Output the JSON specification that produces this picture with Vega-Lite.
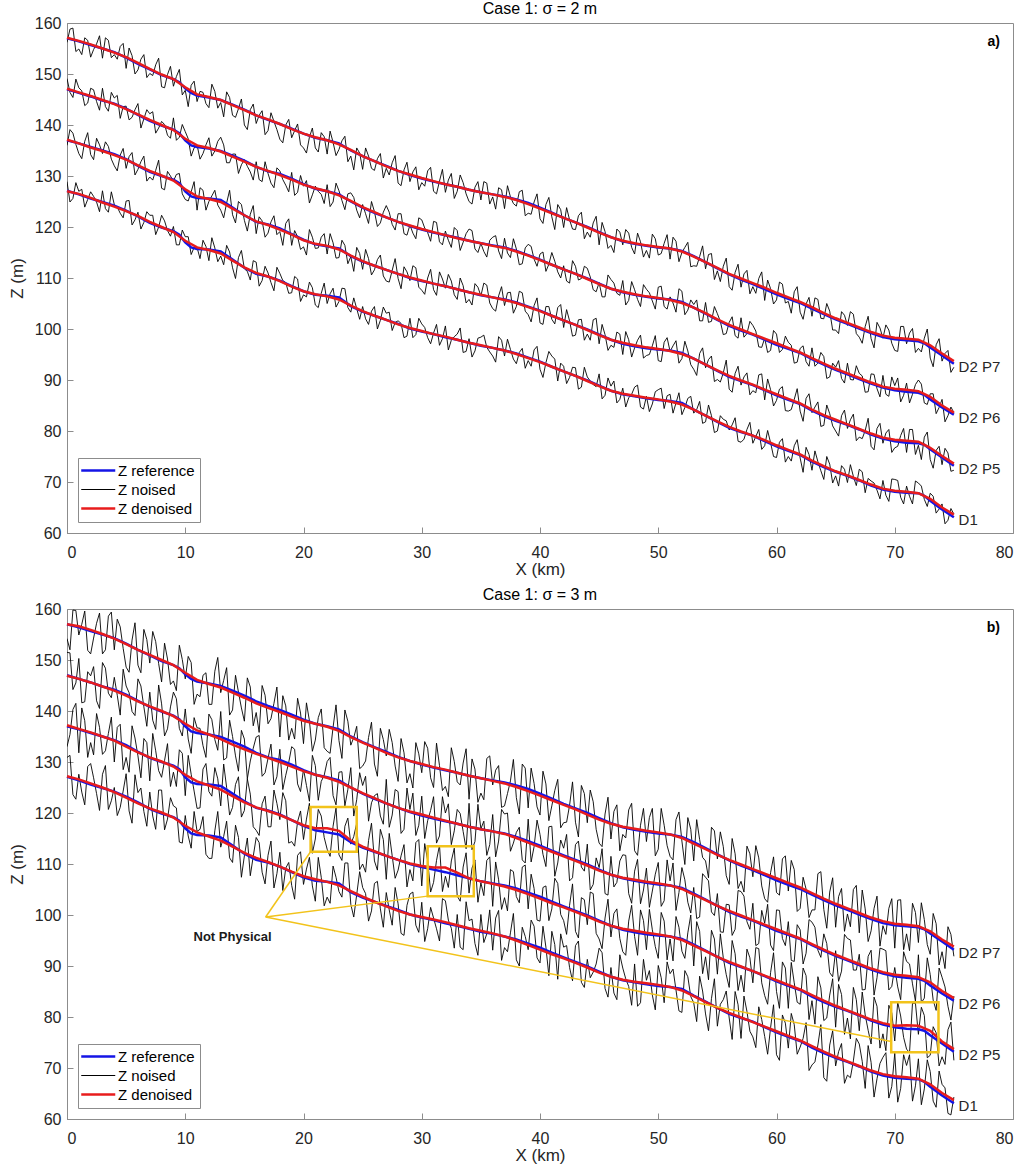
{
"$schema": "https://vega.github.io/schema/vega-lite/v6.json",
"background": "white",
"padding": {"left": 7, "top": 0, "right": 0, "bottom": 0},
"spacing": 8,
"config": {
  "font": "Liberation Sans",
  "view": {"stroke": "#8c8c8c", "strokeWidth": 1},
  "axis": {"grid": false, "domainColor": "#8c8c8c", "tickColor": "#8c8c8c", "labelColor": "#262626", "titleColor": "#262626", "labelFontSize": 16, "titleFontSize": 17, "titleFontWeight": "normal", "tickSize": -6},
  "axisX": {"labelPadding": 17, "titlePadding": 1},
  "axisY": {"labelPadding": 12, "titlePadding": 8},
  "title": {"fontSize": 16, "fontWeight": "normal", "color": "#000000", "offset": -2}
},
"resolve": {"scale": {"color": "independent"}, "legend": {"color": "independent"}},
"datasets": {
"ref": [
{"x":0,"D1":127.1,"P5":137.0,"P6":147.0,"P7":157.0},
{"x":1,"D1":126.4,"P5":136.4,"P6":146.3,"P7":156.4},
{"x":2,"D1":125.6,"P5":135.7,"P6":145.6,"P7":155.7},
{"x":3,"D1":124.9,"P5":135.0,"P6":144.8,"P7":155.0},
{"x":4,"D1":124.2,"P5":134.3,"P6":144.2,"P7":154.3},
{"x":5,"D1":123.2,"P5":133.3,"P6":143.2,"P7":153.2},
{"x":6,"D1":122.1,"P5":132.0,"P6":142.0,"P7":152.0},
{"x":7,"D1":120.8,"P5":130.8,"P6":140.8,"P7":150.9},
{"x":8,"D1":119.9,"P5":130.0,"P6":139.9,"P7":149.8},
{"x":9,"D1":119.2,"P5":129.3,"P6":139.1,"P7":149.0},
{"x":9.5,"D1":118.5,"P5":128.6,"P6":138.4,"P7":148.4},
{"x":10,"D1":117.0,"P5":127.0,"P6":137.0,"P7":147.2},
{"x":10.5,"D1":116.0,"P5":126.0,"P6":136.0,"P7":146.3},
{"x":11,"D1":115.7,"P5":125.7,"P6":135.7,"P7":145.8},
{"x":12,"D1":115.6,"P5":125.6,"P6":135.4,"P7":145.4},
{"x":13,"D1":115.2,"P5":125.3,"P6":134.9,"P7":144.9},
{"x":14,"D1":113.6,"P5":123.8,"P6":134.0,"P7":144.0},
{"x":15,"D1":112.0,"P5":122.3,"P6":133.0,"P7":143.0},
{"x":16,"D1":110.8,"P5":121.0,"P6":131.8,"P7":141.9},
{"x":17,"D1":110.3,"P5":120.5,"P6":130.9,"P7":141.0},
{"x":18,"D1":109.5,"P5":119.7,"P6":130.4,"P7":140.2},
{"x":19,"D1":108.4,"P5":118.6,"P6":129.5,"P7":139.3},
{"x":20,"D1":107.4,"P5":117.5,"P6":128.4,"P7":138.3},
{"x":21,"D1":106.7,"P5":116.6,"P6":127.5,"P7":137.5},
{"x":22,"D1":106.5,"P5":116.2,"P6":127.0,"P7":137.0},
{"x":23,"D1":106.2,"P5":115.8,"P6":126.4,"P7":136.4},
{"x":24,"D1":104.5,"P5":114.3,"P6":125.0,"P7":135.0},
{"x":25,"D1":103.4,"P5":113.2,"P6":123.8,"P7":133.9},
{"x":26,"D1":102.6,"P5":112.4,"P6":122.8,"P7":132.9},
{"x":27,"D1":101.8,"P5":111.6,"P6":121.9,"P7":132.0},
{"x":28,"D1":101.0,"P5":110.8,"P6":121.0,"P7":131.0},
{"x":29,"D1":100.1,"P5":110.0,"P6":120.2,"P7":130.2},
{"x":30,"D1":99.5,"P5":109.4,"P6":119.5,"P7":129.5},
{"x":31,"D1":99.0,"P5":108.9,"P6":118.9,"P7":128.9},
{"x":32,"D1":98.4,"P5":108.4,"P6":118.4,"P7":128.4},
{"x":33,"D1":97.9,"P5":107.8,"P6":117.9,"P7":127.9},
{"x":34,"D1":97.3,"P5":107.2,"P6":117.3,"P7":127.3},
{"x":35,"D1":96.7,"P5":106.6,"P6":116.8,"P7":126.8},
{"x":36,"D1":96.3,"P5":106.2,"P6":116.4,"P7":126.4},
{"x":37,"D1":95.8,"P5":105.8,"P6":116.0,"P7":126.0},
{"x":38,"D1":95.2,"P5":105.2,"P6":115.3,"P7":125.4},
{"x":39,"D1":94.4,"P5":104.4,"P6":114.5,"P7":124.7},
{"x":40,"D1":93.6,"P5":103.6,"P6":113.6,"P7":123.8},
{"x":41,"D1":92.6,"P5":102.6,"P6":112.6,"P7":122.8},
{"x":42,"D1":91.7,"P5":101.7,"P6":111.7,"P7":121.8},
{"x":43,"D1":90.8,"P5":100.8,"P6":110.8,"P7":120.9},
{"x":44,"D1":89.9,"P5":99.9,"P6":109.9,"P7":120.0},
{"x":45,"D1":88.9,"P5":98.9,"P6":108.9,"P7":119.0},
{"x":46,"D1":87.9,"P5":97.9,"P6":107.9,"P7":118.0},
{"x":47,"D1":87.2,"P5":97.1,"P6":107.2,"P7":117.2},
{"x":48,"D1":86.8,"P5":96.6,"P6":106.7,"P7":116.7},
{"x":49,"D1":86.4,"P5":96.2,"P6":106.3,"P7":116.3},
{"x":50,"D1":86.1,"P5":96.0,"P6":106.0,"P7":116.0},
{"x":51,"D1":85.9,"P5":95.8,"P6":105.8,"P7":115.8},
{"x":52,"D1":85.5,"P5":95.3,"P6":105.3,"P7":115.3},
{"x":53,"D1":84.2,"P5":94.2,"P6":104.2,"P7":114.3},
{"x":54,"D1":83.0,"P5":93.0,"P6":103.0,"P7":113.1},
{"x":55,"D1":81.8,"P5":91.8,"P6":101.8,"P7":111.9},
{"x":56,"D1":80.6,"P5":90.6,"P6":100.6,"P7":110.7},
{"x":57,"D1":79.8,"P5":89.8,"P6":99.7,"P7":109.7},
{"x":58,"D1":79.1,"P5":89.0,"P6":98.9,"P7":108.8},
{"x":59,"D1":78.0,"P5":88.0,"P6":97.9,"P7":107.8},
{"x":60,"D1":77.0,"P5":87.0,"P6":96.9,"P7":106.8},
{"x":61,"D1":76.1,"P5":86.1,"P6":96.1,"P7":105.9},
{"x":62,"D1":75.3,"P5":85.3,"P6":95.3,"P7":105.1},
{"x":63,"D1":74.0,"P5":84.0,"P6":94.1,"P7":104.0},
{"x":64,"D1":72.9,"P5":82.9,"P6":93.0,"P7":102.9},
{"x":65,"D1":72.0,"P5":82.0,"P6":92.0,"P7":101.9},
{"x":66,"D1":71.2,"P5":81.2,"P6":91.1,"P7":101.0},
{"x":67,"D1":70.3,"P5":80.3,"P6":90.2,"P7":100.1},
{"x":68,"D1":69.3,"P5":79.3,"P6":89.3,"P7":99.2},
{"x":69,"D1":68.5,"P5":78.5,"P6":88.5,"P7":98.4},
{"x":70,"D1":68.1,"P5":78.0,"P6":88.0,"P7":98.0},
{"x":71,"D1":67.9,"P5":77.7,"P6":87.7,"P7":97.8},
{"x":72,"D1":67.8,"P5":77.6,"P6":87.5,"P7":97.6},
{"x":72.5,"D1":67.3,"P5":77.3,"P6":87.1,"P7":97.2},
{"x":73,"D1":66.3,"P5":76.4,"P6":86.2,"P7":96.4},
{"x":74,"D1":64.6,"P5":74.8,"P6":84.6,"P7":94.8},
{"x":75,"D1":63.1,"P5":73.2,"P6":83.2,"P7":93.2}
],
"noiseA": [
{"x":0,"D1":128.9,"P5":136.0,"P6":149.1,"P7":156.2},
{"x":0.5,"D1":125.6,"P5":138.4,"P6":145.4,"P7":159.0},
{"x":1,"D1":127.0,"P5":134.4,"P6":147.3,"P7":154.9},
{"x":1.5,"D1":123.9,"P5":136.8,"P6":143.8,"P7":157.1},
{"x":2,"D1":126.9,"P5":134.2,"P6":147.2,"P7":153.3},
{"x":2.5,"D1":124.9,"P5":137.4,"P6":144.6,"P7":155.9},
{"x":3,"D1":127.1,"P5":134.4,"P6":147.2,"P7":153.1},
{"x":3.5,"D1":122.9,"P5":135.8,"P6":142.7,"P7":156.6},
{"x":4,"D1":124.4,"P5":132.0,"P6":145.3,"P7":153.8},
{"x":4.5,"D1":122.7,"P5":134.1,"P6":141.3,"P7":155.4},
{"x":5,"D1":125.1,"P5":131.5,"P6":143.7,"P7":151.1},
{"x":5.5,"D1":120.4,"P5":134.6,"P6":141.5,"P7":153.6},
{"x":6,"D1":122.9,"P5":131.3,"P6":144.2,"P7":150.8},
{"x":6.5,"D1":120.9,"P5":133.9,"P6":141.2,"P7":153.8},
{"x":7,"D1":122.3,"P5":129.8,"P6":142.2,"P7":150.1},
{"x":7.5,"D1":118.5,"P5":131.1,"P6":138.4,"P7":151.8},
{"x":8,"D1":122.3,"P5":127.6,"P6":140.7,"P7":147.5},
{"x":8.5,"D1":119.3,"P5":130.9,"P6":138.0,"P7":149.9},
{"x":9,"D1":120.1,"P5":129.0,"P6":141.4,"P7":147.6},
{"x":9.5,"D1":116.5,"P5":130.5,"P6":137.6,"P7":150.9},
{"x":10,"D1":118.1,"P5":125.4,"P6":138.7,"P7":146.8},
{"x":10.5,"D1":114.6,"P5":126.9,"P6":133.9,"P7":147.8},
{"x":11,"D1":116.0,"P5":123.3,"P6":136.1,"P7":144.6},
{"x":11.5,"D1":117.4,"P5":127.2,"P6":134.4,"P7":146.4},
{"x":12,"D1":113.4,"P5":125.0,"P6":137.5,"P7":143.4},
{"x":12.5,"D1":115.9,"P5":127.2,"P6":134.9,"P7":146.6},
{"x":13,"D1":114.3,"P5":123.3,"P6":137.6,"P7":144.4},
{"x":13.5,"D1":116.4,"P5":124.7,"P6":132.6,"P7":146.5},
{"x":14,"D1":112.0,"P5":122.4,"P6":134.3,"P7":141.9},
{"x":14.5,"D1":114.0,"P5":125.0,"P6":130.5,"P7":143.2},
{"x":15,"D1":111.8,"P5":121.3,"P6":133.2,"P7":140.0},
{"x":15.5,"D1":109.6,"P5":122.5,"P6":130.8,"P7":143.0},
{"x":16,"D1":113.1,"P5":118.7,"P6":132.8,"P7":140.3},
{"x":16.5,"D1":109.5,"P5":121.2,"P6":128.9,"P7":142.8},
{"x":17,"D1":111.0,"P5":118.8,"P6":130.5,"P7":138.9},
{"x":17.5,"D1":107.5,"P5":122.2,"P6":127.7,"P7":140.7},
{"x":18,"D1":110.9,"P5":119.1,"P6":131.0,"P7":137.2},
{"x":18.5,"D1":109.1,"P5":120.7,"P6":128.2,"P7":140.0},
{"x":19,"D1":107.1,"P5":116.4,"P6":130.7,"P7":137.5},
{"x":19.5,"D1":109.8,"P5":118.1,"P6":126.8,"P7":140.2},
{"x":20,"D1":106.7,"P5":116.1,"P6":128.0,"P7":135.5},
{"x":20.5,"D1":109.2,"P5":119.5,"P6":124.7,"P7":137.6},
{"x":21,"D1":104.7,"P5":115.8,"P6":128.0,"P7":135.5},
{"x":21.5,"D1":107.0,"P5":118.0,"P6":126.4,"P7":138.5},
{"x":22,"D1":105.0,"P5":114.7,"P6":128.3,"P7":134.3},
{"x":22.5,"D1":108.0,"P5":116.9,"P6":124.9,"P7":136.6},
{"x":23,"D1":105.4,"P5":114.0,"P6":127.1,"P7":135.2},
{"x":23.5,"D1":107.9,"P5":116.4,"P6":123.4,"P7":137.8},
{"x":24,"D1":103.3,"P5":114.2,"P6":126.7,"P7":133.9},
{"x":24.5,"D1":104.0,"P5":116.0,"P6":123.3,"P7":135.5},
{"x":25,"D1":104.4,"P5":111.7,"P6":124.4,"P7":131.3},
{"x":25.5,"D1":100.9,"P5":113.8,"P6":120.7,"P7":133.9},
{"x":26,"D1":104.4,"P5":111.6,"P6":123.0,"P7":131.1},
{"x":26.5,"D1":101.7,"P5":114.5,"P6":120.8,"P7":134.4},
{"x":27,"D1":103.1,"P5":109.4,"P6":124.2,"P7":131.5},
{"x":27.5,"D1":99.7,"P5":111.5,"P6":120.5,"P7":132.6},
{"x":28,"D1":101.6,"P5":109.9,"P6":122.6,"P7":128.6},
{"x":28.5,"D1":98.3,"P5":112.2,"P6":118.7,"P7":131.2},
{"x":29,"D1":102.1,"P5":109.5,"P6":120.4,"P7":128.9},
{"x":29.5,"D1":98.9,"P5":112.0,"P6":117.7,"P7":131.8},
{"x":30,"D1":101.0,"P5":107.6,"P6":121.4,"P7":128.7},
{"x":30.5,"D1":98.3,"P5":110.0,"P6":118.9,"P7":131.0},
{"x":31,"D1":99.2,"P5":107.7,"P6":121.1,"P7":127.0},
{"x":31.5,"D1":96.8,"P5":111.2,"P6":117.1,"P7":129.0},
{"x":32,"D1":100.6,"P5":108.0,"P6":119.2,"P7":126.8},
{"x":32.5,"D1":97.8,"P5":109.4,"P6":116.0,"P7":130.5},
{"x":33,"D1":99.0,"P5":105.8,"P6":119.3,"P7":127.0},
{"x":33.5,"D1":95.4,"P5":108.5,"P6":117.0,"P7":128.7},
{"x":34,"D1":98.1,"P5":105.8,"P6":119.6,"P7":125.0},
{"x":34.5,"D1":95.7,"P5":108.9,"P6":115.7,"P7":127.8},
{"x":35,"D1":98.4,"P5":106.5,"P6":116.8,"P7":125.3},
{"x":35.5,"D1":96.4,"P5":108.6,"P6":114.1,"P7":128.6},
{"x":36,"D1":94.7,"P5":104.0,"P6":118.0,"P7":125.9},
{"x":36.5,"D1":98.5,"P5":106.5,"P6":115.3,"P7":127.7},
{"x":37,"D1":94.7,"P5":104.6,"P6":117.8,"P7":123.6},
{"x":37.5,"D1":96.0,"P5":107.2,"P6":114.0,"P7":125.9},
{"x":38,"D1":93.2,"P5":104.4,"P6":115.7,"P7":124.1},
{"x":38.5,"D1":96.2,"P5":107.1,"P6":112.8,"P7":127.2},
{"x":39,"D1":93.8,"P5":102.8,"P6":116.6,"P7":122.7},
{"x":39.5,"D1":95.9,"P5":104.6,"P6":113.7,"P7":124.9},
{"x":40,"D1":92.1,"P5":101.2,"P6":114.7,"P7":121.6},
{"x":40.5,"D1":93.4,"P5":104.4,"P6":111.3,"P7":124.4},
{"x":41,"D1":94.7,"P5":101.9,"P6":115.0,"P7":122.0},
{"x":41.5,"D1":89.8,"P5":104.2,"P6":111.2,"P7":124.4},
{"x":42,"D1":92.7,"P5":100.3,"P6":112.4,"P7":119.9},
{"x":42.5,"D1":90.5,"P5":101.6,"P6":109.0,"P7":121.4},
{"x":43,"D1":92.4,"P5":98.8,"P6":112.3,"P7":119.5},
{"x":43.5,"D1":88.6,"P5":101.9,"P6":109.9,"P7":122.9},
{"x":44,"D1":90.6,"P5":99.0,"P6":111.9,"P7":119.0},
{"x":44.5,"D1":89.1,"P5":101.8,"P6":107.7,"P7":120.8},
{"x":45,"D1":91.2,"P5":97.1,"P6":109.1,"P7":116.5},
{"x":45.5,"D1":87.0,"P5":98.9,"P6":106.3,"P7":119.1},
{"x":46,"D1":88.8,"P5":96.8,"P6":109.7,"P7":116.4},
{"x":46.5,"D1":85.5,"P5":99.4,"P6":107.0,"P7":119.6},
{"x":47,"D1":88.4,"P5":95.0,"P6":109.5,"P7":116.5},
{"x":47.5,"D1":86.5,"P5":97.9,"P6":105.6,"P7":118.8},
{"x":48,"D1":88.6,"P5":96.3,"P6":107.7,"P7":114.7},
{"x":48.5,"D1":84.7,"P5":98.8,"P6":104.4,"P7":117.1},
{"x":49,"D1":86.8,"P5":94.8,"P6":107.8,"P7":115.4},
{"x":49.5,"D1":85.3,"P5":96.7,"P6":105.5,"P7":118.6},
{"x":50,"D1":88.1,"P5":93.8,"P6":108.2,"P7":114.5},
{"x":50.5,"D1":84.4,"P5":97.4,"P6":104.4,"P7":116.8},
{"x":51,"D1":87.2,"P5":95.6,"P6":106.3,"P7":113.7},
{"x":51.5,"D1":85.5,"P5":97.7,"P6":103.3,"P7":117.2},
{"x":52,"D1":83.2,"P5":94.2,"P6":107.4,"P7":115.0},
{"x":52.5,"D1":86.4,"P5":95.7,"P6":103.7,"P7":117.0},
{"x":53,"D1":83.5,"P5":92.1,"P6":104.8,"P7":112.4},
{"x":53.5,"D1":85.8,"P5":95.2,"P6":101.6,"P7":114.2},
{"x":54,"D1":81.8,"P5":92.4,"P6":105.2,"P7":111.8},
{"x":54.5,"D1":83.0,"P5":94.7,"P6":101.5,"P7":114.8},
{"x":55,"D1":80.0,"P5":90.1,"P6":103.0,"P7":111.4},
{"x":55.5,"D1":82.3,"P5":91.4,"P6":98.9,"P7":112.3},
{"x":56,"D1":80.2,"P5":88.2,"P6":101.3,"P7":108.3},
{"x":56.5,"D1":82.6,"P5":91.3,"P6":98.7,"P7":111.1},
{"x":57,"D1":77.8,"P5":89.0,"P6":102.2,"P7":108.2},
{"x":57.5,"D1":80.3,"P5":91.4,"P6":99.1,"P7":111.5},
{"x":58,"D1":77.6,"P5":87.9,"P6":100.7,"P7":108.3},
{"x":58.5,"D1":80.3,"P5":91.0,"P6":96.5,"P7":109.9},
{"x":59,"D1":77.1,"P5":86.1,"P6":98.2,"P7":105.6},
{"x":59.5,"D1":77.7,"P5":88.1,"P6":95.8,"P7":107.9},
{"x":60,"D1":74.8,"P5":86.0,"P6":99.0,"P7":105.7},
{"x":60.5,"D1":78.5,"P5":88.7,"P6":96.0,"P7":108.8},
{"x":61,"D1":75.0,"P5":83.9,"P6":97.4,"P7":105.4},
{"x":61.5,"D1":77.1,"P5":86.2,"P6":93.3,"P7":107.3},
{"x":62,"D1":74.7,"P5":83.9,"P6":96.2,"P7":103.3},
{"x":62.5,"D1":76.8,"P5":86.4,"P6":93.6,"P7":104.9},
{"x":63,"D1":72.3,"P5":83.6,"P6":96.3,"P7":102.5},
{"x":63.5,"D1":74.0,"P5":85.7,"P6":93.3,"P7":105.8},
{"x":64,"D1":70.5,"P5":81.1,"P6":94.6,"P7":102.0},
{"x":64.5,"D1":73.5,"P5":83.4,"P6":90.6,"P7":103.5},
{"x":65,"D1":71.2,"P5":80.0,"P6":92.5,"P7":99.8},
{"x":65.5,"D1":73.2,"P5":83.0,"P6":90.3,"P7":103.4},
{"x":66,"D1":69.9,"P5":80.5,"P6":93.3,"P7":100.7},
{"x":66.5,"D1":71.1,"P5":83.3,"P6":90.0,"P7":102.9},
{"x":67,"D1":72.5,"P5":78.8,"P6":91.3,"P7":98.4},
{"x":67.5,"D1":67.9,"P5":80.1,"P6":87.6,"P7":100.5},
{"x":68,"D1":70.2,"P5":77.0,"P6":91.2,"P7":98.1},
{"x":68.5,"D1":68.4,"P5":80.5,"P6":88.3,"P7":101.3},
{"x":69,"D1":70.3,"P5":77.6,"P6":90.9,"P7":98.2},
{"x":69.5,"D1":66.2,"P5":80.3,"P6":86.8,"P7":99.8},
{"x":70,"D1":70.5,"P5":76.7,"P6":88.9,"P7":95.8},
{"x":70.5,"D1":67.0,"P5":79.1,"P6":85.7,"P7":100.5},
{"x":71,"D1":69.2,"P5":75.8,"P6":89.4,"P7":97.1},
{"x":71.5,"D1":65.7,"P5":80.3,"P6":87.2,"P7":100.1},
{"x":72,"D1":69.8,"P5":77.2,"P6":90.0,"P7":96.2},
{"x":72.5,"D1":66.6,"P5":78.8,"P6":85.5,"P7":98.2},
{"x":73,"D1":67.8,"P5":74.4,"P6":87.3,"P7":94.3},
{"x":73.5,"D1":63.9,"P5":76.2,"P6":83.4,"P7":96.9},
{"x":74,"D1":65.7,"P5":73.4,"P6":86.2,"P7":93.7},
{"x":74.5,"D1":62.5,"P5":75.7,"P6":83.0,"P7":95.8},
{"x":75,"D1":63.7,"P5":72.3,"P6":83.6,"P7":92.5},
{"x":0.25,"D1":124.9,"P5":139.1,"P6":146.4,"P7":158.8},
{"x":0.75,"D1":128.7,"P5":136.2,"P6":149.0,"P7":154.4},
{"x":1.75,"D1":125.4,"P5":138.5,"P6":144.3,"P7":156.6},
{"x":1.25,"D1":127.4,"P5":133.4,"P6":146.7,"P7":153.8},
{"x":2.75,"D1":123.0,"P5":136.1,"P6":142.9,"P7":157.5},
{"x":2.25,"D1":126.0,"P5":133.2,"P6":146.9,"P7":154.8},
{"x":3.25,"D1":123.6,"P5":136.7,"P6":143.6,"P7":157.1},
{"x":3.75,"D1":126.9,"P5":133.3,"P6":146.4,"P7":153.2},
{"x":4.75,"D1":121.8,"P5":135.4,"P6":143.6,"P7":156.0},
{"x":4.25,"D1":123.9,"P5":131.0,"P6":145.8,"P7":152.9},
{"x":5.25,"D1":125.2,"P5":133.8,"P6":141.0,"P7":155.1},
{"x":5.75,"D1":121.4,"P5":130.2,"P6":143.0,"P7":150.0},
{"x":6.25,"D1":119.6,"P5":132.8,"P6":139.4,"P7":152.9},
{"x":6.75,"D1":123.0,"P5":129.0,"P6":143.0,"P7":149.3},
{"x":7.75,"D1":120.0,"P5":133.1,"P6":139.4,"P7":153.1},
{"x":7.25,"D1":122.3,"P5":129.2,"P6":142.6,"P7":149.7},
{"x":8.75,"D1":118.2,"P5":130.0,"P6":137.4,"P7":151.5},
{"x":8.25,"D1":121.2,"P5":127.3,"P6":140.1,"P7":147.3},
{"x":9.25,"D1":116.5,"P5":130.3,"P6":137.0,"P7":149.5},
{"x":9.75,"D1":119.4,"P5":126.5,"P6":140.1,"P7":145.9},
{"x":10.75,"D1":116.0,"P5":128.9,"P6":135.5,"P7":148.6},
{"x":10.25,"D1":118.1,"P5":125.1,"P6":137.3,"P7":143.6},
{"x":11.25,"D1":113.8,"P5":127.7,"P6":133.3,"P7":146.6},
{"x":11.75,"D1":116.2,"P5":123.3,"P6":136.1,"P7":144.2},
{"x":12.25,"D1":117.9,"P5":126.1,"P6":133.9,"P7":148.0},
{"x":12.75,"D1":113.2,"P5":124.3,"P6":136.8,"P7":143.3},
{"x":13.75,"D1":115.1,"P5":127.2,"P6":132.6,"P7":145.4},
{"x":13.25,"D1":112.6,"P5":121.8,"P6":136.1,"P7":141.6},
{"x":14.75,"D1":115.4,"P5":124.4,"P6":132.2,"P7":145.1},
{"x":14.25,"D1":109.9,"P5":120.8,"P6":134.3,"P7":141.5},
{"x":15.75,"D1":113.4,"P5":124.2,"P6":129.2,"P7":144.1},
{"x":15.25,"D1":111.3,"P5":119.2,"P6":131.9,"P7":139.1},
{"x":16.25,"D1":108.4,"P5":122.0,"P6":129.3,"P7":141.9},
{"x":16.75,"D1":112.3,"P5":118.0,"P6":132.8,"P7":138.1},
{"x":17.25,"D1":109.1,"P5":121.0,"P6":128.6,"P7":142.4},
{"x":17.75,"D1":112.1,"P5":118.5,"P6":131.6,"P7":139.1},
{"x":18.75,"D1":107.0,"P5":121.6,"P6":126.9,"P7":141.1},
{"x":18.25,"D1":109.5,"P5":116.4,"P6":129.3,"P7":136.5},
{"x":19.25,"D1":110.3,"P5":119.3,"P6":126.2,"P7":138.9},
{"x":19.75,"D1":105.4,"P5":115.6,"P6":130.1,"P7":136.1},
{"x":20.75,"D1":108.1,"P5":118.0,"P6":126.3,"P7":139.4},
{"x":20.25,"D1":106.3,"P5":114.5,"P6":129.1,"P7":134.5},
{"x":21.75,"D1":109.0,"P5":118.7,"P6":124.6,"P7":137.7},
{"x":21.25,"D1":104.2,"P5":115.9,"P6":127.0,"P7":134.7},
{"x":22.25,"D1":106.9,"P5":118.7,"P6":124.0,"P7":138.8},
{"x":22.75,"D1":104.3,"P5":113.9,"P6":128.6,"P7":134.0},
{"x":23.25,"D1":108.0,"P5":117.4,"P6":125.2,"P7":136.9},
{"x":23.75,"D1":104.2,"P5":112.8,"P6":126.5,"P7":132.8},
{"x":24.75,"D1":101.9,"P5":114.8,"P6":121.8,"P7":134.5},
{"x":24.25,"D1":106.1,"P5":111.3,"P6":125.8,"P7":131.2},
{"x":25.25,"D1":102.0,"P5":115.6,"P6":122.6,"P7":135.5},
{"x":25.75,"D1":103.5,"P5":110.6,"P6":125.0,"P7":131.5},
{"x":26.25,"D1":100.0,"P5":113.6,"P6":120.1,"P7":133.4},
{"x":26.75,"D1":104.3,"P5":110.4,"P6":122.9,"P7":129.6},
{"x":27.75,"D1":101.3,"P5":113.8,"P6":119.4,"P7":134.0},
{"x":27.25,"D1":103.3,"P5":109.2,"P6":122.9,"P7":130.2},
{"x":28.75,"D1":98.6,"P5":111.2,"P6":118.4,"P7":132.7},
{"x":28.25,"D1":101.1,"P5":107.9,"P6":122.6,"P7":128.1},
{"x":29.25,"D1":98.3,"P5":112.4,"P6":118.8,"P7":130.8},
{"x":29.75,"D1":102.1,"P5":108.2,"P6":121.8,"P7":127.3},
{"x":30.75,"D1":97.1,"P5":111.7,"P6":117.2,"P7":131.7},
{"x":30.25,"D1":100.3,"P5":106.8,"P6":119.8,"P7":128.0},
{"x":31.75,"D1":98.1,"P5":109.8,"P6":116.5,"P7":131.3},
{"x":31.25,"D1":100.9,"P5":106.6,"P6":120.9,"P7":126.5},
{"x":32.25,"D1":95.9,"P5":110.7,"P6":117.4,"P7":129.2},
{"x":32.75,"D1":98.5,"P5":106.7,"P6":119.9,"P7":125.6},
{"x":33.25,"D1":100.2,"P5":110.0,"P6":115.4,"P7":130.2},
{"x":33.75,"D1":95.6,"P5":105.1,"P6":118.7,"P7":126.5},
{"x":34.75,"D1":98.2,"P5":108.2,"P6":115.0,"P7":128.9},
{"x":34.25,"D1":94.5,"P5":104.7,"P6":119.3,"P7":124.5},
{"x":35.25,"D1":98.8,"P5":109.0,"P6":115.2,"P7":128.9},
{"x":35.75,"D1":95.5,"P5":105.1,"P6":117.4,"P7":124.5},
{"x":36.75,"D1":97.8,"P5":108.3,"P6":113.8,"P7":127.3},
{"x":36.25,"D1":93.5,"P5":103.5,"P6":118.3,"P7":123.5},
{"x":37.25,"D1":98.0,"P5":107.1,"P6":114.9,"P7":128.1},
{"x":37.75,"D1":94.1,"P5":103.1,"P6":117.7,"P7":124.6},
{"x":38.25,"D1":95.4,"P5":107.4,"P6":112.6,"P7":126.9},
{"x":38.75,"D1":92.3,"P5":103.5,"P6":115.9,"P7":122.2},
{"x":39.75,"D1":96.6,"P5":106.1,"P6":112.3,"P7":126.5},
{"x":39.25,"D1":92.7,"P5":101.4,"P6":116.2,"P7":122.5},
{"x":40.75,"D1":95.6,"P5":104.4,"P6":112.7,"P7":125.8},
{"x":40.25,"D1":90.5,"P5":100.9,"P6":115.1,"P7":120.7},
{"x":41.75,"D1":93.3,"P5":104.8,"P6":110.0,"P7":123.4},
{"x":41.25,"D1":94.1,"P5":101.0,"P6":113.3,"P7":119.5},
{"x":42.25,"D1":89.3,"P5":103.8,"P6":109.4,"P7":123.8},
{"x":42.75,"D1":92.5,"P5":98.6,"P6":113.4,"P7":119.6},
{"x":43.25,"D1":88.2,"P5":101.8,"P6":109.6,"P7":122.2},
{"x":43.75,"D1":92.5,"P5":97.8,"P6":112.3,"P7":117.7},
{"x":44.75,"D1":88.7,"P5":102.1,"P6":107.3,"P7":122.1},
{"x":44.25,"D1":89.8,"P5":97.8,"P6":110.2,"P7":118.0},
{"x":45.25,"D1":86.3,"P5":100.9,"P6":106.3,"P7":120.9},
{"x":45.75,"D1":90.4,"P5":95.8,"P6":110.6,"P7":115.8},
{"x":46.75,"D1":86.2,"P5":99.0,"P6":106.6,"P7":119.0},
{"x":46.25,"D1":89.8,"P5":96.4,"P6":109.0,"P7":115.0},
{"x":47.25,"D1":84.7,"P5":99.5,"P6":104.7,"P7":119.5},
{"x":47.75,"D1":87.2,"P5":94.5,"P6":109.3,"P7":116.0},
{"x":48.25,"D1":89.0,"P5":97.8,"P6":105.8,"P7":118.8},
{"x":48.75,"D1":84.3,"P5":94.3,"P6":108.7,"P7":114.1},
{"x":49.75,"D1":87.7,"P5":98.7,"P6":103.9,"P7":117.7},
{"x":49.25,"D1":83.8,"P5":95.0,"P6":107.1,"P7":113.9},
{"x":50.75,"D1":86.9,"P5":98.3,"P6":103.9,"P7":118.5},
{"x":50.25,"D1":88.4,"P5":93.6,"P6":108.4,"P7":114.8},
{"x":51.25,"D1":83.5,"P5":96.7,"P6":105.1,"P7":118.0},
{"x":51.75,"D1":87.5,"P5":93.3,"P6":107.9,"P7":113.2},
{"x":52.25,"D1":84.6,"P5":97.6,"P6":102.8,"P7":116.0},
{"x":52.75,"D1":86.8,"P5":93.0,"P6":105.7,"P7":112.2},
{"x":53.75,"D1":81.5,"P5":96.3,"P6":101.6,"P7":116.3},
{"x":53.25,"D1":84.2,"P5":90.9,"P6":105.7,"P7":112.3},
{"x":54.25,"D1":85.1,"P5":94.0,"P6":101.3,"P7":114.6},
{"x":54.75,"D1":79.7,"P5":89.7,"P6":104.4,"P7":109.7},
{"x":55.75,"D1":82.0,"P5":93.9,"P6":99.1,"P7":113.9},
{"x":55.25,"D1":83.0,"P5":89.6,"P6":101.5,"P7":109.3},
{"x":56.75,"D1":78.0,"P5":92.7,"P6":98.2,"P7":112.7},
{"x":56.25,"D1":81.2,"P5":87.6,"P6":102.4,"P7":107.6},
{"x":57.25,"D1":78.4,"P5":90.6,"P6":98.4,"P7":110.8},
{"x":57.75,"D1":81.7,"P5":87.1,"P6":101.5,"P7":106.9},
{"x":58.75,"D1":76.4,"P5":91.2,"P6":96.4,"P7":111.2},
{"x":58.25,"D1":78.9,"P5":87.5,"P6":99.6,"P7":107.0},
{"x":59.25,"D1":80.1,"P5":90.2,"P6":95.4,"P7":109.6},
{"x":59.75,"D1":75.0,"P5":84.9,"P6":99.7,"P7":104.9},
{"x":60.25,"D1":77.8,"P5":88.2,"P6":95.4,"P7":109.2},
{"x":60.75,"D1":73.9,"P5":84.0,"P6":98.6,"P7":105.1},
{"x":61.75,"D1":78.3,"P5":88.3,"P6":93.5,"P7":108.3},
{"x":61.25,"D1":74.1,"P5":84.2,"P6":96.8,"P7":103.1},
{"x":62.75,"D1":75.4,"P5":87.3,"P6":92.7,"P7":106.2},
{"x":62.25,"D1":71.9,"P5":81.9,"P6":96.7,"P7":101.9},
{"x":63.25,"D1":76.1,"P5":84.7,"P6":92.7,"P7":106.1},
{"x":63.75,"D1":72.2,"P5":80.9,"P6":95.4,"P7":102.1},
{"x":64.25,"D1":75.0,"P5":85.1,"P6":90.3,"P7":105.0},
{"x":64.75,"D1":69.8,"P5":81.0,"P6":93.3,"P7":99.8},
{"x":65.75,"D1":72.5,"P5":84.1,"P6":89.4,"P7":102.7},
{"x":65.25,"D1":69.2,"P5":79.0,"P6":93.8,"P7":99.1},
{"x":66.25,"D1":73.4,"P5":82.2,"P6":90.1,"P7":103.4},
{"x":66.75,"D1":69.3,"P5":78.1,"P6":92.8,"P7":99.1},
{"x":67.75,"D1":70.7,"P5":82.5,"P6":87.7,"P7":102.5},
{"x":67.25,"D1":72.0,"P5":78.5,"P6":90.8,"P7":97.2},
{"x":68.75,"D1":66.7,"P5":81.5,"P6":86.7,"P7":100.2},
{"x":68.25,"D1":69.8,"P5":76.3,"P6":91.1,"P7":96.3},
{"x":69.25,"D1":67.4,"P5":79.6,"P6":87.2,"P7":100.8},
{"x":69.75,"D1":70.6,"P5":75.8,"P6":90.6,"P7":97.2},
{"x":70.75,"D1":65.7,"P5":80.5,"P6":87.0,"P7":100.5},
{"x":70.25,"D1":70.3,"P5":77.0,"P6":90.4,"P7":95.6},
{"x":71.25,"D1":67.2,"P5":80.3,"P6":85.5,"P7":99.2},
{"x":71.75,"D1":70.2,"P5":75.4,"P6":89.1,"P7":95.4},
{"x":72.75,"D1":65.2,"P5":79.8,"P6":85.2,"P7":100.0},
{"x":72.25,"D1":69.2,"P5":74.4,"P6":89.2,"P7":95.5},
{"x":73.75,"D1":64.7,"P5":77.0,"P6":84.6,"P7":98.1},
{"x":73.25,"D1":67.2,"P5":72.7,"P6":87.3,"P7":92.6},
{"x":74.25,"D1":61.8,"P5":76.6,"P6":81.8,"P7":95.2},
{"x":74.75,"D1":64.8,"P5":72.1,"P6":84.7,"P7":91.5}
],
"noiseB": [
{"x":0,"D1":130.9,"P5":133.0,"P6":151.5,"P7":154.2},
{"x":0.5,"D1":123.6,"P5":140.3,"P6":144.2,"P7":159.8},
{"x":1,"D1":127.6,"P5":131.8,"P6":150.3,"P7":154.9},
{"x":1.5,"D1":121.6,"P5":138.1,"P6":141.8,"P7":159.6},
{"x":2,"D1":129.7,"P5":133.8,"P6":146.9,"P7":151.2},
{"x":2.5,"D1":123.8,"P5":139.5,"P6":142.0,"P7":157.2},
{"x":3,"D1":127.6,"P5":131.5,"P6":149.5,"P7":151.2},
{"x":3.5,"D1":120.7,"P5":135.6,"P6":143.5,"P7":158.6},
{"x":4,"D1":125.0,"P5":130.0,"P6":146.6,"P7":152.0},
{"x":4.5,"D1":121.1,"P5":137.4,"P6":139.2,"P7":156.5},
{"x":5,"D1":127.7,"P5":130.9,"P6":144.9,"P7":148.6},
{"x":5.5,"D1":118.0,"P5":137.1,"P6":139.9,"P7":153.9},
{"x":6,"D1":124.0,"P5":131.2,"P6":146.3,"P7":149.0},
{"x":6.5,"D1":120.3,"P5":134.6,"P6":140.8,"P7":156.0},
{"x":7,"D1":124.1,"P5":126.3,"P6":143.7,"P7":149.4},
{"x":7.5,"D1":116.8,"P5":132.2,"P6":136.4,"P7":153.6},
{"x":8,"D1":124.5,"P5":127.0,"P6":141.4,"P7":145.7},
{"x":8.5,"D1":118.8,"P5":133.6,"P6":136.5,"P7":150.2},
{"x":9,"D1":121.4,"P5":128.0,"P6":143.7,"P7":145.9},
{"x":9.5,"D1":114.3,"P5":132.4,"P6":136.6,"P7":152.9},
{"x":10,"D1":119.5,"P5":123.4,"P6":140.4,"P7":146.3},
{"x":10.5,"D1":113.1,"P5":127.6,"P6":131.7,"P7":149.5},
{"x":11,"D1":116.4,"P5":120.9,"P6":136.7,"P7":143.3},
{"x":11.5,"D1":119.3,"P5":128.6,"P6":133.2,"P7":147.0},
{"x":12,"D1":111.1,"P5":124.2,"P6":139.4,"P7":141.3},
{"x":12.5,"D1":116.5,"P5":128.9,"P6":134.4,"P7":147.8},
{"x":13,"D1":113.3,"P5":121.4,"P6":139.9,"P7":143.6},
{"x":13.5,"D1":118.4,"P5":125.0,"P6":130.8,"P7":148.5},
{"x":14,"D1":110.3,"P5":121.1,"P6":135.0,"P7":140.2},
{"x":14.5,"D1":115.2,"P5":127.1,"P6":128.2,"P7":143.7},
{"x":15,"D1":111.6,"P5":120.5,"P6":134.5,"P7":138.0},
{"x":15.5,"D1":107.7,"P5":123.7,"P6":130.2,"P7":144.7},
{"x":16,"D1":115.2,"P5":116.6,"P6":134.9,"P7":139.7},
{"x":16.5,"D1":108.4,"P5":121.8,"P6":127.2,"P7":145.0},
{"x":17,"D1":111.7,"P5":117.3,"P6":130.7,"P7":137.5},
{"x":17.5,"D1":105.3,"P5":124.5,"P6":125.5,"P7":141.5},
{"x":18,"D1":112.3,"P5":118.7,"P6":132.5,"P7":134.9},
{"x":18.5,"D1":109.2,"P5":122.4,"P6":127.4,"P7":141.0},
{"x":19,"D1":105.8,"P5":114.4,"P6":133.0,"P7":136.6},
{"x":19.5,"D1":111.7,"P5":118.3,"P6":125.7,"P7":142.5},
{"x":20,"D1":106.0,"P5":114.8,"P6":128.6,"P7":133.6},
{"x":20.5,"D1":111.3,"P5":121.9,"P6":122.3,"P7":138.1},
{"x":21,"D1":102.7,"P5":114.9,"P6":129.3,"P7":134.3},
{"x":21.5,"D1":107.4,"P5":119.4,"P6":126.2,"P7":140.4},
{"x":22,"D1":103.5,"P5":112.9,"P6":130.1,"P7":132.1},
{"x":22.5,"D1":109.6,"P5":117.4,"P6":123.4,"P7":136.8},
{"x":23,"D1":104.6,"P5":111.8,"P6":128.0,"P7":134.2},
{"x":23.5,"D1":110.2,"P5":117.4,"P6":121.4,"P7":140.2},
{"x":24,"D1":102.1,"P5":113.9,"P6":128.9,"P7":133.3},
{"x":24.5,"D1":104.0,"P5":118.0,"P6":122.6,"P7":137.0},
{"x":25,"D1":105.4,"P5":110.0,"P6":125.4,"P7":129.2},
{"x":25.5,"D1":98.8,"P5":114.6,"P6":118.4,"P7":134.8},
{"x":26,"D1":106.2,"P5":110.6,"P6":123.4,"P7":129.6},
{"x":26.5,"D1":101.2,"P5":116.8,"P6":119.4,"P7":136.6},
{"x":27,"D1":104.4,"P5":107.0,"P6":126.6,"P7":131.2},
{"x":27.5,"D1":98.0,"P5":111.6,"P6":119.6,"P7":133.8},
{"x":28,"D1":102.2,"P5":108.8,"P6":124.2,"P7":126.2},
{"x":28.5,"D1":96.0,"P5":113.8,"P6":116.8,"P7":131.8},
{"x":29,"D1":104.1,"P5":108.9,"P6":120.7,"P7":127.7},
{"x":29.5,"D1":98.0,"P5":114.2,"P6":115.6,"P7":133.8},
{"x":30,"D1":102.5,"P5":105.7,"P6":123.3,"P7":127.9},
{"x":30.5,"D1":97.3,"P5":110.7,"P6":118.5,"P7":132.7},
{"x":31,"D1":99.4,"P5":106.4,"P6":123.2,"P7":125.0},
{"x":31.5,"D1":94.9,"P5":113.7,"P6":115.5,"P7":129.3},
{"x":32,"D1":102.8,"P5":107.6,"P6":120.0,"P7":125.2},
{"x":32.5,"D1":97.4,"P5":110.6,"P6":113.8,"P7":132.8},
{"x":33,"D1":100.1,"P5":103.7,"P6":120.7,"P7":126.1},
{"x":33.5,"D1":93.2,"P5":109.4,"P6":116.4,"P7":129.8},
{"x":34,"D1":98.9,"P5":104.3,"P6":121.9,"P7":122.7},
{"x":34.5,"D1":94.4,"P5":110.8,"P6":114.4,"P7":128.6},
{"x":35,"D1":100.1,"P5":106.3,"P6":116.9,"P7":123.9},
{"x":35.5,"D1":96.3,"P5":110.7,"P6":111.7,"P7":130.7},
{"x":36,"D1":93.1,"P5":101.7,"P6":119.7,"P7":125.5},
{"x":36.5,"D1":100.9,"P5":106.9,"P6":114.5,"P7":129.3},
{"x":37,"D1":93.6,"P5":103.4,"P6":119.8,"P7":121.4},
{"x":37.5,"D1":96.5,"P5":108.9,"P6":112.5,"P7":126.3},
{"x":38,"D1":91.2,"P5":103.6,"P6":116.2,"P7":123.0},
{"x":38.5,"D1":97.6,"P5":109.4,"P6":110.8,"P7":129.6},
{"x":39,"D1":93.2,"P5":101.2,"P6":118.8,"P7":121.0},
{"x":39.5,"D1":97.8,"P5":105.2,"P6":113.4,"P7":125.8},
{"x":40,"D1":90.6,"P5":98.8,"P6":115.8,"P7":119.6},
{"x":40.5,"D1":93.7,"P5":105.7,"P6":109.5,"P7":125.7},
{"x":41,"D1":96.8,"P5":101.2,"P6":117.4,"P7":121.4},
{"x":41.5,"D1":87.4,"P5":106.2,"P6":110.2,"P7":126.6},
{"x":42,"D1":93.7,"P5":98.9,"P6":113.1,"P7":118.1},
{"x":42.5,"D1":89.7,"P5":101.9,"P6":106.7,"P7":121.5},
{"x":43,"D1":94.0,"P5":96.8,"P6":113.8,"P7":118.2},
{"x":43.5,"D1":86.8,"P5":103.4,"P6":109.4,"P7":125.4},
{"x":44,"D1":91.3,"P5":98.1,"P6":113.9,"P7":118.1},
{"x":44.5,"D1":88.8,"P5":104.2,"P6":106.0,"P7":122.2},
{"x":45,"D1":93.5,"P5":95.3,"P6":109.3,"P7":114.1},
{"x":45.5,"D1":85.6,"P5":99.4,"P6":104.2,"P7":119.8},
{"x":46,"D1":89.7,"P5":95.7,"P6":111.5,"P7":114.9},
{"x":46.5,"D1":83.4,"P5":101.2,"P6":106.4,"P7":121.6},
{"x":47,"D1":89.6,"P5":92.8,"P6":111.8,"P7":115.8},
{"x":47.5,"D1":86.0,"P5":98.8,"P6":104.2,"P7":120.6},
{"x":48,"D1":90.4,"P5":95.8,"P6":108.6,"P7":112.6},
{"x":48.5,"D1":82.8,"P5":101.0,"P6":102.2,"P7":117.6},
{"x":49,"D1":87.2,"P5":93.2,"P6":109.2,"P7":114.4},
{"x":49.5,"D1":84.3,"P5":97.1,"P6":104.7,"P7":120.9},
{"x":50,"D1":90.1,"P5":91.5,"P6":110.3,"P7":112.9},
{"x":50.5,"D1":82.8,"P5":98.8,"P6":102.8,"P7":117.6},
{"x":51,"D1":88.5,"P5":95.3,"P6":106.7,"P7":111.5},
{"x":51.5,"D1":85.3,"P5":99.7,"P6":100.9,"P7":118.7},
{"x":52,"D1":80.9,"P5":92.9,"P6":109.3,"P7":114.5},
{"x":52.5,"D1":87.9,"P5":96.5,"P6":102.5,"P7":119.1},
{"x":53,"D1":82.8,"P5":90.0,"P6":105.4,"P7":110.6},
{"x":53.5,"D1":88.0,"P5":96.8,"P6":99.6,"P7":114.8},
{"x":54,"D1":80.6,"P5":91.8,"P6":107.4,"P7":110.6},
{"x":54.5,"D1":83.6,"P5":97.0,"P6":100.6,"P7":117.2},
{"x":55,"D1":78.2,"P5":88.4,"P6":104.2,"P7":111.0},
{"x":55.5,"D1":83.4,"P5":91.6,"P6":96.6,"P7":113.4},
{"x":56,"D1":79.8,"P5":85.8,"P6":102.0,"P7":106.0},
{"x":56.5,"D1":85.0,"P5":92.4,"P6":97.2,"P7":112.0},
{"x":57,"D1":75.8,"P5":88.2,"P6":104.6,"P7":106.6},
{"x":57.5,"D1":81.1,"P5":93.3,"P6":98.7,"P7":113.5},
{"x":58,"D1":76.1,"P5":86.7,"P6":102.3,"P7":107.5},
{"x":58.5,"D1":82.0,"P5":93.4,"P6":94.4,"P7":111.2},
{"x":59,"D1":76.2,"P5":84.2,"P6":98.4,"P7":103.2},
{"x":59.5,"D1":77.9,"P5":88.7,"P6":94.1,"P7":108.3},
{"x":60,"D1":72.6,"P5":85.0,"P6":101.0,"P7":104.4},
{"x":60.5,"D1":80.4,"P5":90.8,"P6":95.4,"P7":111.0},
{"x":61,"D1":73.9,"P5":81.7,"P6":98.7,"P7":104.7},
{"x":61.5,"D1":78.5,"P5":86.7,"P6":90.9,"P7":108.9},
{"x":62,"D1":74.1,"P5":82.5,"P6":97.1,"P7":101.3},
{"x":62.5,"D1":78.9,"P5":88.1,"P6":92.5,"P7":105.1},
{"x":63,"D1":70.6,"P5":83.2,"P6":98.6,"P7":101.0},
{"x":63.5,"D1":74.5,"P5":87.9,"P6":93.1,"P7":108.1},
{"x":64,"D1":68.1,"P5":79.3,"P6":96.3,"P7":101.1},
{"x":64.5,"D1":74.5,"P5":84.3,"P6":88.7,"P7":104.5},
{"x":65,"D1":70.4,"P5":78.0,"P6":93.0,"P7":97.6},
{"x":65.5,"D1":74.8,"P5":84.4,"P6":89.0,"P7":105.2},
{"x":66,"D1":68.6,"P5":79.8,"P6":95.4,"P7":100.2},
{"x":66.5,"D1":71.4,"P5":85.8,"P6":89.2,"P7":105.0},
{"x":67,"D1":74.7,"P5":77.3,"P6":92.3,"P7":96.5},
{"x":67.5,"D1":66.0,"P5":80.4,"P6":85.4,"P7":101.2},
{"x":68,"D1":71.1,"P5":74.7,"P6":93.1,"P7":96.9},
{"x":68.5,"D1":67.9,"P5":82.1,"P6":87.7,"P7":103.7},
{"x":69,"D1":72.1,"P5":76.7,"P6":93.3,"P7":97.9},
{"x":69.5,"D1":64.1,"P5":82.3,"P6":85.3,"P7":101.3},
{"x":70,"D1":72.9,"P5":75.3,"P6":89.7,"P7":93.5},
{"x":70.5,"D1":66.0,"P5":80.2,"P6":83.4,"P7":103.0},
{"x":71,"D1":70.5,"P5":73.7,"P6":90.9,"P7":96.3},
{"x":71.5,"D1":63.5,"P5":82.7,"P6":86.5,"P7":102.3},
{"x":72,"D1":71.8,"P5":76.6,"P6":92.2,"P7":94.6},
{"x":72.5,"D1":65.9,"P5":80.3,"P6":83.7,"P7":99.1},
{"x":73,"D1":69.3,"P5":72.5,"P6":88.3,"P7":92.3},
{"x":73.5,"D1":62.3,"P5":76.9,"P6":81.3,"P7":98.3},
{"x":74,"D1":66.8,"P5":72.2,"P6":87.8,"P7":92.8},
{"x":74.5,"D1":61.1,"P5":77.5,"P6":82.1,"P7":97.7},
{"x":75,"D1":64.3,"P5":71.5,"P6":84.1,"P7":91.9},
{"x":0.75,"D1":122.7,"P5":141.5,"P6":145.5,"P7":159.7},
{"x":0.25,"D1":131.3,"P5":135.4,"P6":151.4,"P7":152.0},
{"x":1.25,"D1":124.1,"P5":140.6,"P6":141.6,"P7":157.0},
{"x":1.75,"D1":129.1,"P5":130.9,"P6":147.7,"P7":151.9},
{"x":2.75,"D1":120.5,"P5":136.8,"P6":140.5,"P7":159.2},
{"x":2.25,"D1":126.9,"P5":131.4,"P6":148.7,"P7":154.3},
{"x":3.75,"D1":122.4,"P5":138.8,"P6":142.6,"P7":159.4},
{"x":3.25,"D1":129.3,"P5":132.2,"P6":148.4,"P7":152.0},
{"x":4.25,"D1":119.5,"P5":136.8,"P6":143.1,"P7":158.0},
{"x":4.75,"D1":124.3,"P5":128.5,"P6":148.2,"P7":152.3},
{"x":5.75,"D1":127.5,"P5":134.7,"P6":139.1,"P7":157.3},
{"x":5.25,"D1":120.4,"P5":128.0,"P6":143.6,"P7":147.6},
{"x":6.75,"D1":117.4,"P5":133.8,"P6":137.0,"P7":154.0},
{"x":6.25,"D1":124.9,"P5":126.9,"P6":144.9,"P7":147.5},
{"x":7.25,"D1":119.4,"P5":135.6,"P6":138.2,"P7":155.6},
{"x":7.75,"D1":124.5,"P5":128.3,"P6":145.1,"P7":149.3},
{"x":8.25,"D1":116.7,"P5":130.3,"P6":135.1,"P7":153.3},
{"x":8.75,"D1":123.0,"P5":125.2,"P6":140.8,"P7":145.2},
{"x":9.75,"D1":114.1,"P5":131.7,"P6":135.1,"P7":150.1},
{"x":9.25,"D1":121.0,"P5":125.2,"P6":142.4,"P7":144.0},
{"x":10.25,"D1":115.5,"P5":131.3,"P6":134.5,"P7":150.7},
{"x":10.75,"D1":120.3,"P5":124.3,"P6":138.7,"P7":141.3},
{"x":11.75,"D1":111.9,"P5":129.7,"P6":130.9,"P7":147.5},
{"x":11.25,"D1":116.8,"P5":121.0,"P6":136.6,"P7":142.8},
{"x":12.75,"D1":120.3,"P5":126.7,"P6":132.3,"P7":150.5},
{"x":12.25,"D1":111.1,"P5":123.3,"P6":138.3,"P7":141.3},
{"x":13.25,"D1":115.4,"P5":129.6,"P6":130.4,"P7":146.0},
{"x":13.75,"D1":111.2,"P5":119.6,"P6":138.2,"P7":139.2},
{"x":14.25,"D1":117.6,"P5":125.6,"P6":131.2,"P7":147.0},
{"x":14.75,"D1":107.4,"P5":119.2,"P6":136.2,"P7":140.6},
{"x":15.25,"D1":115.1,"P5":126.7,"P6":126.7,"P7":146.5},
{"x":15.75,"D1":111.5,"P5":117.3,"P6":132.7,"P7":137.1},
{"x":16.75,"D1":106.1,"P5":123.3,"P6":127.9,"P7":143.1},
{"x":16.25,"D1":114.2,"P5":115.6,"P6":135.2,"P7":135.8},
{"x":17.75,"D1":108.1,"P5":121.9,"P6":127.1,"P7":144.7},
{"x":17.25,"D1":114.5,"P5":117.3,"P6":133.5,"P7":138.5},
{"x":18.25,"D1":104.8,"P5":124.0,"P6":124.6,"P7":143.0},
{"x":18.75,"D1":110.3,"P5":114.1,"P6":129.9,"P7":134.3},
{"x":19.75,"D1":112.4,"P5":120.4,"P6":124.2,"P7":139.6},
{"x":19.25,"D1":103.1,"P5":113.5,"P6":132.5,"P7":134.5},
{"x":20.25,"D1":109.0,"P5":118.8,"P6":125.4,"P7":141.6},
{"x":20.75,"D1":105.7,"P5":112.1,"P6":131.3,"P7":132.1},
{"x":21.25,"D1":111.3,"P5":120.7,"P6":122.5,"P7":138.7},
{"x":21.75,"D1":101.8,"P5":115.2,"P6":127.4,"P7":132.8},
{"x":22.75,"D1":107.4,"P5":121.0,"P6":121.6,"P7":141.2},
{"x":22.25,"D1":102.3,"P5":111.5,"P6":130.9,"P7":131.7},
{"x":23.75,"D1":110.2,"P5":119.0,"P6":124.6,"P7":138.0},
{"x":23.25,"D1":103.5,"P5":110.7,"P6":128.1,"P7":130.7},
{"x":24.25,"D1":99.6,"P5":115.4,"P6":119.4,"P7":134.8},
{"x":24.75,"D1":108.5,"P5":108.9,"P6":127.9,"P7":128.7},
{"x":25.75,"D1":100.8,"P5":118.0,"P6":122.0,"P7":137.8},
{"x":25.25,"D1":104.2,"P5":108.4,"P6":127.2,"P7":130.2},
{"x":26.75,"D1":97.6,"P5":114.8,"P6":117.8,"P7":134.4},
{"x":26.25,"D1":106.6,"P5":108.8,"P6":123.8,"P7":127.2},
{"x":27.25,"D1":101.0,"P5":116.0,"P6":117.2,"P7":136.4},
{"x":27.75,"D1":105.4,"P5":107.2,"P6":124.6,"P7":129.2},
{"x":28.25,"D1":96.4,"P5":111.6,"P6":116.0,"P7":134.6},
{"x":28.75,"D1":101.9,"P5":105.5,"P6":124.9,"P7":125.9},
{"x":29.75,"D1":96.6,"P5":114.8,"P6":117.6,"P7":131.6},
{"x":29.25,"D1":104.5,"P5":106.7,"P6":123.9,"P7":124.9},
{"x":30.25,"D1":94.8,"P5":114.0,"P6":115.0,"P7":134.0},
{"x":30.75,"D1":101.5,"P5":104.5,"P6":120.5,"P7":126.9},
{"x":31.25,"D1":97.3,"P5":110.7,"P6":114.1,"P7":133.7},
{"x":31.75,"D1":103.2,"P5":104.6,"P6":123.2,"P7":124.4},
{"x":32.75,"D1":93.5,"P5":113.1,"P6":116.5,"P7":130.1},
{"x":32.25,"D1":99.0,"P5":105.4,"P6":121.8,"P7":123.2},
{"x":33.75,"D1":102.6,"P5":112.2,"P6":113.0,"P7":132.6},
{"x":33.25,"D1":93.7,"P5":102.7,"P6":119.9,"P7":125.5},
{"x":34.25,"D1":99.2,"P5":109.2,"P6":112.8,"P7":130.6},
{"x":34.75,"D1":92.1,"P5":102.5,"P6":121.7,"P7":122.1},
{"x":35.75,"D1":101.0,"P5":111.4,"P6":113.8,"P7":131.2},
{"x":35.25,"D1":94.6,"P5":103.8,"P6":118.4,"P7":122.6},
{"x":36.25,"D1":99.4,"P5":110.4,"P6":111.4,"P7":128.4},
{"x":36.75,"D1":91.1,"P5":101.1,"P6":120.7,"P7":121.1},
{"x":37.75,"D1":100.3,"P5":108.5,"P6":114.1,"P7":130.5},
{"x":37.25,"D1":92.8,"P5":100.8,"P6":120.0,"P7":123.8},
{"x":38.75,"D1":95.8,"P5":109.8,"P6":110.2,"P7":128.8},
{"x":38.25,"D1":90.0,"P5":102.4,"P6":117.2,"P7":119.8},
{"x":39.25,"D1":99.0,"P5":108.0,"P6":110.4,"P7":128.8},
{"x":39.75,"D1":91.6,"P5":99.0,"P6":118.6,"P7":121.2},
{"x":40.25,"D1":97.8,"P5":105.4,"P6":111.9,"P7":128.2},
{"x":40.75,"D1":88.1,"P5":98.9,"P6":117.3,"P7":118.5},
{"x":41.25,"D1":94.2,"P5":107.2,"P6":107.6,"P7":124.4},
{"x":41.75,"D1":96.3,"P5":100.1,"P6":114.7,"P7":117.1},
{"x":42.75,"D1":87.1,"P5":106.1,"P6":107.3,"P7":126.1},
{"x":42.25,"D1":94.0,"P5":96.2,"P6":115.8,"P7":118.2},
{"x":43.75,"D1":85.8,"P5":103.0,"P6":108.6,"P7":123.8},
{"x":43.25,"D1":94.9,"P5":95.5,"P6":114.5,"P7":115.3},
{"x":44.25,"D1":87.7,"P5":104.5,"P6":104.9,"P7":124.5},
{"x":44.75,"D1":90.4,"P5":96.4,"P6":111.2,"P7":116.8},
{"x":45.75,"D1":83.9,"P5":103.1,"P6":103.9,"P7":123.1},
{"x":45.25,"D1":92.6,"P5":93.4,"P6":113.0,"P7":113.4},
{"x":46.25,"D1":84.7,"P5":100.3,"P6":105.5,"P7":120.3},
{"x":46.75,"D1":92.2,"P5":95.4,"P6":110.6,"P7":112.6},
{"x":47.75,"D1":82.3,"P5":101.9,"P6":102.3,"P7":121.9},
{"x":47.25,"D1":87.5,"P5":92.1,"P6":111.7,"P7":115.1},
{"x":48.75,"D1":91.3,"P5":98.9,"P6":104.9,"P7":120.9},
{"x":48.25,"D1":82.1,"P5":92.1,"P6":110.9,"P7":111.7},
{"x":49.25,"D1":89.1,"P5":101.1,"P6":101.5,"P7":119.1},
{"x":49.75,"D1":81.4,"P5":93.8,"P6":108.0,"P7":111.6},
{"x":50.25,"D1":87.7,"P5":100.5,"P6":101.7,"P7":120.9},
{"x":50.75,"D1":90.8,"P5":91.2,"P6":110.8,"P7":113.6},
{"x":51.75,"D1":81.2,"P5":97.6,"P6":104.4,"P7":120.2},
{"x":51.25,"D1":89.4,"P5":91.0,"P6":110.2,"P7":110.8},
{"x":52.75,"D1":84.0,"P5":100.0,"P6":100.4,"P7":116.8},
{"x":52.25,"D1":89.1,"P5":91.5,"P6":106.9,"P7":109.9},
{"x":53.25,"D1":79.1,"P5":98.7,"P6":99.3,"P7":118.7},
{"x":53.75,"D1":85.1,"P5":88.5,"P6":108.1,"P7":111.3},
{"x":54.75,"D1":87.5,"P5":95.3,"P6":99.9,"P7":116.5},
{"x":54.25,"D1":77.3,"P5":87.3,"P6":106.7,"P7":107.3},
{"x":55.25,"D1":82.5,"P5":96.3,"P6":96.7,"P7":116.3},
{"x":55.75,"D1":85.1,"P5":88.3,"P6":102.1,"P7":107.7},
{"x":56.25,"D1":75.6,"P5":95.0,"P6":96.0,"P7":115.0},
{"x":56.75,"D1":82.4,"P5":85.2,"P6":104.8,"P7":105.2},
{"x":57.75,"D1":77.2,"P5":91.6,"P6":97.2,"P7":112.0},
{"x":57.25,"D1":84.1,"P5":84.9,"P6":103.7,"P7":104.5},
{"x":58.25,"D1":74.0,"P5":93.6,"P6":94.0,"P7":113.6},
{"x":58.75,"D1":79.5,"P5":86.7,"P6":100.9,"P7":105.7},
{"x":59.75,"D1":82.4,"P5":92.6,"P6":93.0,"P7":111.4},
{"x":59.25,"D1":72.7,"P5":82.5,"P6":102.1,"P7":102.5},
{"x":60.75,"D1":78.8,"P5":89.6,"P6":94.0,"P7":111.6},
{"x":60.25,"D1":71.5,"P5":81.7,"P6":100.9,"P7":103.9},
{"x":61.25,"D1":80.7,"P5":90.7,"P6":91.1,"P7":110.7},
{"x":61.75,"D1":72.7,"P5":82.9,"P6":98.1,"P7":100.7},
{"x":62.25,"D1":75.8,"P5":89.6,"P6":90.4,"P7":107.4},
{"x":62.75,"D1":69.5,"P5":79.5,"P6":99.1,"P7":99.5},
{"x":63.75,"D1":78.5,"P5":85.7,"P6":91.7,"P7":108.5},
{"x":63.25,"D1":71.2,"P5":78.6,"P6":97.6,"P7":101.0},
{"x":64.75,"D1":77.3,"P5":87.5,"P6":87.9,"P7":107.3},
{"x":64.25,"D1":67.4,"P5":79.8,"P6":94.4,"P7":97.4},
{"x":65.25,"D1":73.2,"P5":86.4,"P6":87.0,"P7":103.6},
{"x":65.75,"D1":67.0,"P5":76.6,"P6":96.2,"P7":96.8},
{"x":66.75,"D1":75.8,"P5":83.4,"P6":89.2,"P7":105.8},
{"x":66.25,"D1":68.1,"P5":75.7,"P6":95.1,"P7":97.7},
{"x":67.25,"D1":71.3,"P5":84.9,"P6":85.3,"P7":104.9},
{"x":67.75,"D1":74.4,"P5":77.4,"P6":91.9,"P7":94.8},
{"x":68.25,"D1":64.3,"P5":83.9,"P6":84.3,"P7":101.3},
{"x":68.75,"D1":70.9,"P5":73.9,"P6":93.5,"P7":93.9},
{"x":69.75,"D1":66.4,"P5":80.8,"P6":86.0,"P7":103.2},
{"x":69.25,"D1":73.0,"P5":73.4,"P6":93.0,"P7":96.2},
{"x":70.25,"D1":63.3,"P5":82.9,"P6":85.9,"P7":102.9},
{"x":70.75,"D1":72.6,"P5":76.0,"P6":92.8,"P7":93.2},
{"x":71.75,"D1":66.5,"P5":82.7,"P6":83.1,"P7":100.5},
{"x":71.25,"D1":72.6,"P5":73.0,"P6":90.4,"P7":93.0},
{"x":72.25,"D1":62.8,"P5":81.9,"P6":82.8,"P7":102.4},
{"x":72.75,"D1":71.6,"P5":72.0,"P6":91.6,"P7":94.2},
{"x":73.25,"D1":63.5,"P5":78.1,"P6":83.3,"P7":100.3},
{"x":73.75,"D1":69.4,"P5":70.4,"P6":89.6,"P7":90.2},
{"x":74.75,"D1":60.8,"P5":79.0,"P6":79.4,"P7":96.2},
{"x":74.25,"D1":66.1,"P5":70.7,"P6":85.9,"P7":89.5}
],
"denA": [
{"x":0,"D1":127.0,"P5":137.1,"P6":147.1,"P7":157.1},
{"x":1,"D1":126.5,"P5":136.4,"P6":146.4,"P7":156.5},
{"x":2,"D1":125.7,"P5":135.6,"P6":145.7,"P7":155.8},
{"x":3,"D1":124.8,"P5":134.9,"P6":144.9,"P7":155.0},
{"x":4,"D1":124.0,"P5":134.1,"P6":144.1,"P7":154.2},
{"x":5,"D1":123.1,"P5":133.2,"P6":143.1,"P7":153.3},
{"x":6,"D1":122.2,"P5":132.1,"P6":142.1,"P7":152.2},
{"x":7,"D1":121.0,"P5":131.0,"P6":141.0,"P7":151.0},
{"x":8,"D1":120.0,"P5":130.1,"P6":140.0,"P7":149.9},
{"x":9,"D1":119.0,"P5":129.1,"P6":139.0,"P7":149.0},
{"x":10,"D1":117.3,"P5":127.4,"P6":137.3,"P7":147.4},
{"x":11,"D1":116.0,"P5":126.0,"P6":136.0,"P7":146.0},
{"x":12,"D1":115.5,"P5":125.5,"P6":135.5,"P7":145.5},
{"x":13,"D1":114.8,"P5":124.9,"P6":134.8,"P7":144.9},
{"x":14,"D1":113.4,"P5":123.6,"P6":133.8,"P7":143.9},
{"x":15,"D1":112.1,"P5":122.3,"P6":132.8,"P7":142.9},
{"x":16,"D1":111.0,"P5":121.1,"P6":131.8,"P7":141.9},
{"x":17,"D1":110.3,"P5":120.4,"P6":131.0,"P7":141.1},
{"x":18,"D1":109.4,"P5":119.5,"P6":130.2,"P7":140.2},
{"x":19,"D1":108.3,"P5":118.5,"P6":129.3,"P7":139.2},
{"x":20,"D1":107.4,"P5":117.4,"P6":128.3,"P7":138.3},
{"x":21,"D1":106.8,"P5":116.7,"P6":127.6,"P7":137.6},
{"x":22,"D1":106.4,"P5":116.3,"P6":127.0,"P7":137.0},
{"x":23,"D1":105.8,"P5":115.6,"P6":126.2,"P7":136.2},
{"x":24,"D1":104.6,"P5":114.4,"P6":125.1,"P7":135.1},
{"x":25,"D1":103.5,"P5":113.3,"P6":123.9,"P7":133.9},
{"x":26,"D1":102.6,"P5":112.4,"P6":122.9,"P7":132.9},
{"x":27,"D1":101.8,"P5":111.6,"P6":121.9,"P7":131.9},
{"x":28,"D1":100.9,"P5":110.8,"P6":121.0,"P7":131.0},
{"x":29,"D1":100.2,"P5":110.1,"P6":120.3,"P7":130.3},
{"x":30,"D1":99.6,"P5":109.5,"P6":119.6,"P7":129.6},
{"x":31,"D1":99.0,"P5":108.9,"P6":119.0,"P7":129.0},
{"x":32,"D1":98.5,"P5":108.4,"P6":118.4,"P7":128.4},
{"x":33,"D1":97.9,"P5":107.8,"P6":117.8,"P7":127.9},
{"x":34,"D1":97.3,"P5":107.2,"P6":117.3,"P7":127.3},
{"x":35,"D1":96.8,"P5":106.7,"P6":116.8,"P7":126.8},
{"x":36,"D1":96.3,"P5":106.2,"P6":116.3,"P7":126.4},
{"x":37,"D1":95.8,"P5":105.7,"P6":115.9,"P7":125.9},
{"x":38,"D1":95.1,"P5":105.1,"P6":115.2,"P7":125.3},
{"x":39,"D1":94.3,"P5":104.3,"P6":114.4,"P7":124.5},
{"x":40,"D1":93.5,"P5":103.5,"P6":113.5,"P7":123.6},
{"x":41,"D1":92.6,"P5":102.6,"P6":112.6,"P7":122.7},
{"x":42,"D1":91.7,"P5":101.7,"P6":111.7,"P7":121.8},
{"x":43,"D1":90.8,"P5":100.8,"P6":110.8,"P7":120.9},
{"x":44,"D1":89.8,"P5":99.8,"P6":109.8,"P7":119.9},
{"x":45,"D1":88.8,"P5":98.8,"P6":108.8,"P7":118.9},
{"x":46,"D1":87.9,"P5":97.9,"P6":107.9,"P7":118.0},
{"x":47,"D1":87.3,"P5":97.3,"P6":107.3,"P7":117.3},
{"x":48,"D1":86.9,"P5":96.8,"P6":106.8,"P7":116.8},
{"x":49,"D1":86.5,"P5":96.4,"P6":106.4,"P7":116.4},
{"x":50,"D1":86.2,"P5":96.1,"P6":106.1,"P7":116.1},
{"x":51,"D1":85.8,"P5":95.7,"P6":105.7,"P7":115.8},
{"x":52,"D1":85.2,"P5":95.1,"P6":105.1,"P7":115.2},
{"x":53,"D1":84.2,"P5":94.2,"P6":104.2,"P7":114.2},
{"x":54,"D1":83.0,"P5":93.0,"P6":103.1,"P7":113.1},
{"x":55,"D1":81.9,"P5":91.9,"P6":101.9,"P7":112.0},
{"x":56,"D1":80.8,"P5":90.8,"P6":100.8,"P7":110.8},
{"x":57,"D1":79.9,"P5":89.9,"P6":99.9,"P7":109.9},
{"x":58,"D1":79.1,"P5":89.1,"P6":99.0,"P7":109.0},
{"x":59,"D1":78.2,"P5":88.1,"P6":98.1,"P7":108.1},
{"x":60,"D1":77.2,"P5":87.2,"P6":97.2,"P7":107.1},
{"x":61,"D1":76.3,"P5":86.3,"P6":96.3,"P7":106.2},
{"x":62,"D1":75.4,"P5":85.4,"P6":95.4,"P7":105.3},
{"x":63,"D1":74.2,"P5":84.2,"P6":94.3,"P7":104.3},
{"x":64,"D1":73.1,"P5":83.1,"P6":93.2,"P7":103.1},
{"x":65,"D1":72.1,"P5":82.2,"P6":92.2,"P7":102.1},
{"x":66,"D1":71.3,"P5":81.3,"P6":91.3,"P7":101.2},
{"x":67,"D1":70.4,"P5":80.4,"P6":90.4,"P7":100.3},
{"x":68,"D1":69.5,"P5":79.5,"P6":89.5,"P7":99.4},
{"x":69,"D1":68.7,"P5":78.7,"P6":88.7,"P7":98.7},
{"x":70,"D1":68.3,"P5":78.3,"P6":88.3,"P7":98.3},
{"x":71,"D1":68.1,"P5":78.1,"P6":88.1,"P7":98.1},
{"x":72,"D1":67.8,"P5":77.9,"P6":87.8,"P7":97.9},
{"x":73,"D1":66.7,"P5":76.7,"P6":86.7,"P7":96.8},
{"x":74,"D1":65.0,"P5":75.1,"P6":85.0,"P7":95.2},
{"x":75,"D1":63.6,"P5":73.6,"P6":83.6,"P7":93.7}
],
"denB": [
{"x":0,"D1":127.2,"P5":137.2,"P6":146.9,"P7":157.0},
{"x":1,"D1":126.6,"P5":136.5,"P6":146.3,"P7":156.6},
{"x":2,"D1":125.8,"P5":135.8,"P6":145.6,"P7":155.9},
{"x":3,"D1":125.0,"P5":135.0,"P6":144.8,"P7":155.1},
{"x":4,"D1":124.1,"P5":134.2,"P6":144.0,"P7":154.2},
{"x":5,"D1":123.0,"P5":133.0,"P6":143.0,"P7":153.1},
{"x":6,"D1":121.9,"P5":131.9,"P6":141.9,"P7":152.0},
{"x":7,"D1":120.9,"P5":130.9,"P6":140.9,"P7":151.0},
{"x":8,"D1":120.1,"P5":130.1,"P6":140.0,"P7":150.0},
{"x":9,"D1":119.1,"P5":129.1,"P6":139.0,"P7":149.0},
{"x":10,"D1":117.5,"P5":127.5,"P6":137.5,"P7":147.5},
{"x":11,"D1":116.2,"P5":126.2,"P6":136.2,"P7":146.1},
{"x":12,"D1":115.4,"P5":125.4,"P6":135.4,"P7":145.3},
{"x":13,"D1":114.6,"P5":124.6,"P6":134.5,"P7":144.6},
{"x":14,"D1":113.4,"P5":123.3,"P6":133.4,"P7":143.6},
{"x":15,"D1":112.2,"P5":122.1,"P6":132.5,"P7":142.6},
{"x":16,"D1":111.2,"P5":121.1,"P6":131.6,"P7":141.5},
{"x":17,"D1":110.4,"P5":120.4,"P6":130.8,"P7":140.6},
{"x":18,"D1":109.5,"P5":119.6,"P6":130.0,"P7":139.8},
{"x":19,"D1":108.5,"P5":118.6,"P6":129.1,"P7":138.9},
{"x":20,"D1":107.6,"P5":117.6,"P6":128.2,"P7":138.1},
{"x":21,"D1":107.0,"P5":117.0,"P6":127.5,"P7":137.5},
{"x":22,"D1":106.5,"P5":117.0,"P6":126.9,"P7":136.9},
{"x":23,"D1":105.8,"P5":116.5,"P6":126.1,"P7":136.1},
{"x":24,"D1":104.7,"P5":114.6,"P6":125.0,"P7":134.9},
{"x":25,"D1":103.6,"P5":113.4,"P6":123.9,"P7":133.8},
{"x":26,"D1":102.6,"P5":112.5,"P6":122.9,"P7":132.8},
{"x":27,"D1":101.7,"P5":111.6,"P6":121.9,"P7":131.8},
{"x":28,"D1":100.8,"P5":110.8,"P6":121.0,"P7":130.9},
{"x":29,"D1":100.1,"P5":110.1,"P6":120.3,"P7":130.2},
{"x":30,"D1":99.6,"P5":109.6,"P6":119.7,"P7":129.6},
{"x":31,"D1":99.1,"P5":109.3,"P6":119.1,"P7":129.0},
{"x":32,"D1":98.6,"P5":109.3,"P6":118.5,"P7":128.5},
{"x":33,"D1":98.0,"P5":108.3,"P6":117.9,"P7":127.9},
{"x":34,"D1":97.4,"P5":107.2,"P6":117.3,"P7":127.3},
{"x":35,"D1":96.9,"P5":106.6,"P6":116.8,"P7":126.8},
{"x":36,"D1":96.4,"P5":106.1,"P6":116.4,"P7":126.3},
{"x":37,"D1":95.8,"P5":105.6,"P6":115.9,"P7":125.8},
{"x":38,"D1":95.0,"P5":104.9,"P6":115.1,"P7":125.1},
{"x":39,"D1":94.1,"P5":104.1,"P6":114.2,"P7":124.3},
{"x":40,"D1":93.2,"P5":103.2,"P6":113.3,"P7":123.4},
{"x":41,"D1":92.3,"P5":102.3,"P6":112.4,"P7":122.5},
{"x":42,"D1":91.5,"P5":101.5,"P6":111.5,"P7":121.6},
{"x":43,"D1":90.6,"P5":100.6,"P6":110.6,"P7":120.7},
{"x":44,"D1":89.7,"P5":99.7,"P6":109.7,"P7":119.7},
{"x":45,"D1":88.7,"P5":98.7,"P6":108.7,"P7":118.7},
{"x":46,"D1":87.9,"P5":97.9,"P6":107.9,"P7":117.9},
{"x":47,"D1":87.3,"P5":97.3,"P6":107.3,"P7":117.3},
{"x":48,"D1":86.9,"P5":96.9,"P6":106.9,"P7":116.9},
{"x":49,"D1":86.6,"P5":96.5,"P6":106.5,"P7":116.5},
{"x":50,"D1":86.3,"P5":96.2,"P6":106.2,"P7":116.2},
{"x":51,"D1":85.9,"P5":95.8,"P6":105.8,"P7":115.8},
{"x":52,"D1":85.2,"P5":95.1,"P6":105.1,"P7":115.1},
{"x":53,"D1":84.1,"P5":94.0,"P6":104.0,"P7":114.0},
{"x":54,"D1":82.9,"P5":92.9,"P6":102.9,"P7":112.9},
{"x":55,"D1":81.8,"P5":91.8,"P6":101.8,"P7":111.8},
{"x":56,"D1":80.8,"P5":90.8,"P6":100.8,"P7":110.8},
{"x":57,"D1":79.9,"P5":89.9,"P6":99.9,"P7":109.9},
{"x":58,"D1":79.0,"P5":89.0,"P6":99.0,"P7":109.0},
{"x":59,"D1":78.1,"P5":88.1,"P6":98.1,"P7":108.1},
{"x":60,"D1":77.2,"P5":87.2,"P6":97.2,"P7":107.2},
{"x":61,"D1":76.3,"P5":86.3,"P6":96.3,"P7":106.3},
{"x":62,"D1":75.4,"P5":85.4,"P6":95.4,"P7":105.4},
{"x":63,"D1":74.3,"P5":84.3,"P6":94.3,"P7":104.3},
{"x":64,"D1":73.2,"P5":83.2,"P6":93.2,"P7":103.2},
{"x":65,"D1":72.2,"P5":82.2,"P6":92.2,"P7":102.2},
{"x":66,"D1":71.3,"P5":81.3,"P6":91.3,"P7":101.3},
{"x":67,"D1":70.4,"P5":80.4,"P6":90.4,"P7":100.4},
{"x":68,"D1":69.5,"P5":79.5,"P6":89.5,"P7":99.5},
{"x":69,"D1":68.8,"P5":78.8,"P6":88.8,"P7":98.8},
{"x":70,"D1":68.4,"P5":78.3,"P6":88.3,"P7":98.3},
{"x":71,"D1":68.2,"P5":78.4,"P6":88.1,"P7":98.1},
{"x":72,"D1":67.9,"P5":78.3,"P6":87.8,"P7":97.8},
{"x":73,"D1":66.8,"P5":77.3,"P6":86.8,"P7":96.8},
{"x":74,"D1":65.1,"P5":75.2,"P6":85.1,"P7":95.2},
{"x":75,"D1":63.7,"P5":73.7,"P6":83.7,"P7":93.8}
],
"labels": [
{"x":75.4,"z":92.6,"t":"D2 P7"},
{"x":75.4,"z":82.5,"t":"D2 P6"},
{"x":75.4,"z":72.5,"t":"D2 P5"},
{"x":75.4,"z":62.5,"t":"D1"}
]
},
"vconcat": [
{
"title": {"text": "Case 1: σ = 2 m"},
"width": 946, "height": 510,
"layer": [
{"data": {"name": "noiseA"}, "transform": [{"fold": ["D1","P5","P6","P7"], "as": ["prof","z"]}],
 "mark": {"type": "line", "strokeWidth": 0.9, "clip": true},
 "encoding": {
  "x": {"field": "x", "type": "quantitative", "scale": {"domain": [0,80]}, "axis": {"title": "X (km)", "values": [0,10,20,30,40,50,60,70,80]}},
  "y": {"field": "z", "type": "quantitative", "scale": {"domain": [60,160]}, "axis": {"title": "Z (m)", "values": [60,70,80,90,100,110,120,130,140,150,160]}},
  "detail": {"field": "prof"},
  "color": {"datum": "Z noised", "type": "nominal", "scale": {"domain": ["Z reference","Z noised","Z denoised"], "range": ["#1414e6","#000000","#e81c1c"]},
   "legend": {"title": null, "orient": "bottom-left", "offset": 11, "fillColor": "white", "strokeColor": "#8c8c8c", "padding": 5, "labelFontSize": 15, "labelColor": "#000000", "symbolType": "M-0.95,0H2.54", "symbolSize": 380, "labelOffset": 20, "rowPadding": 3, "encode": {"symbols": {"update": {"strokeWidth": {"signal": "datum.value === 'Z noised' ? 1 : 2.5"}, "fill": {"value": "transparent"}}}}}}
 }},
{"data": {"name": "ref"}, "transform": [{"fold": ["D1","P5","P6","P7"], "as": ["prof","z"]}],
 "mark": {"type": "line", "strokeWidth": 2.5},
 "encoding": {"x": {"field": "x", "type": "quantitative"}, "y": {"field": "z", "type": "quantitative"}, "detail": {"field": "prof"}, "color": {"datum": "Z reference", "type": "nominal"}}},
{"data": {"name": "denA"}, "transform": [{"fold": ["D1","P5","P6","P7"], "as": ["prof","z"]}],
 "mark": {"type": "line", "strokeWidth": 2.5},
 "encoding": {"x": {"field": "x", "type": "quantitative"}, "y": {"field": "z", "type": "quantitative"}, "detail": {"field": "prof"}, "color": {"datum": "Z denoised", "type": "nominal"}}},
{"data": {"name": "labels"},
 "mark": {"type": "text", "align": "left", "baseline": "middle", "fontSize": 15, "color": "#262626"},
 "encoding": {"x": {"field": "x", "type": "quantitative"}, "y": {"field": "z", "type": "quantitative"}, "text": {"field": "t"}}},
{"data": {"values": [{"x": 78.9, "z": 156.3, "t": "a)"}]},
 "mark": {"type": "text", "align": "right", "baseline": "middle", "fontSize": 14, "fontWeight": "bold", "color": "#000000"},
 "encoding": {"x": {"field": "x", "type": "quantitative"}, "y": {"field": "z", "type": "quantitative"}, "text": {"field": "t"}}}
]
},
{
"title": {"text": "Case 1: σ = 3 m"},
"width": 946, "height": 510,
"layer": [
{"data": {"name": "noiseB"}, "transform": [{"fold": ["D1","P5","P6","P7"], "as": ["prof","z"]}],
 "mark": {"type": "line", "strokeWidth": 0.9, "clip": true},
 "encoding": {
  "x": {"field": "x", "type": "quantitative", "scale": {"domain": [0,80]}, "axis": {"title": "X (km)", "values": [0,10,20,30,40,50,60,70,80]}},
  "y": {"field": "z", "type": "quantitative", "scale": {"domain": [60,160]}, "axis": {"title": "Z (m)", "values": [60,70,80,90,100,110,120,130,140,150,160]}},
  "detail": {"field": "prof"},
  "color": {"datum": "Z noised", "type": "nominal", "scale": {"domain": ["Z reference","Z noised","Z denoised"], "range": ["#1414e6","#000000","#e81c1c"]},
   "legend": {"title": null, "orient": "bottom-left", "offset": 11, "fillColor": "white", "strokeColor": "#8c8c8c", "padding": 5, "labelFontSize": 15, "labelColor": "#000000", "symbolType": "M-0.95,0H2.54", "symbolSize": 380, "labelOffset": 20, "rowPadding": 3, "encode": {"symbols": {"update": {"strokeWidth": {"signal": "datum.value === 'Z noised' ? 1 : 2.5"}, "fill": {"value": "transparent"}}}}}}
 }},
{"data": {"name": "ref"}, "transform": [{"fold": ["D1","P5","P6","P7"], "as": ["prof","z"]}],
 "mark": {"type": "line", "strokeWidth": 2.5},
 "encoding": {"x": {"field": "x", "type": "quantitative"}, "y": {"field": "z", "type": "quantitative"}, "detail": {"field": "prof"}, "color": {"datum": "Z reference", "type": "nominal"}}},
{"data": {"name": "denB"}, "transform": [{"fold": ["D1","P5","P6","P7"], "as": ["prof","z"]}],
 "mark": {"type": "line", "strokeWidth": 2.5},
 "encoding": {"x": {"field": "x", "type": "quantitative"}, "y": {"field": "z", "type": "quantitative"}, "detail": {"field": "prof"}, "color": {"datum": "Z denoised", "type": "nominal"}}},
{"data": {"name": "labels"},
 "mark": {"type": "text", "align": "left", "baseline": "middle", "fontSize": 15, "color": "#262626"},
 "encoding": {"x": {"field": "x", "type": "quantitative"}, "y": {"field": "z", "type": "quantitative"}, "text": {"field": "t"}}},
{"data": {"values": [{"x": 78.9, "z": 156.3, "t": "b)"}]},
 "mark": {"type": "text", "align": "right", "baseline": "middle", "fontSize": 14, "fontWeight": "bold", "color": "#000000"},
 "encoding": {"x": {"field": "x", "type": "quantitative"}, "y": {"field": "z", "type": "quantitative"}, "text": {"field": "t"}}},
{"data": {"values": [{"x": 20.6, "xe": 24.5, "z": 112.4, "ze": 121.2}, {"x": 30.5, "xe": 34.4, "z": 103.7, "ze": 113.5}, {"x": 69.7, "xe": 73.7, "z": 73.1, "ze": 82.9}]},
 "mark": {"type": "rect", "fill": null, "fillOpacity": 0, "stroke": "#F2C31B", "strokeWidth": 2.5},
 "encoding": {"x": {"field": "x", "type": "quantitative"}, "x2": {"field": "xe"}, "y": {"field": "z", "type": "quantitative"}, "y2": {"field": "ze"}}},
{"data": {"values": [{"x": 16.8, "z": 99.6, "xe": 20.6, "ze": 112.4}, {"x": 16.8, "z": 99.6, "xe": 30.5, "ze": 103.7}, {"x": 16.8, "z": 99.6, "xe": 69.7, "ze": 75.2}]},
 "mark": {"type": "rule", "color": "#F2C31B", "strokeWidth": 1.5},
 "encoding": {"x": {"field": "x", "type": "quantitative"}, "x2": {"field": "xe"}, "y": {"field": "z", "type": "quantitative"}, "y2": {"field": "ze"}}},
{"data": {"values": [{"x": 14.0, "z": 95.7, "t": "Not Physical"}]},
 "mark": {"type": "text", "align": "center", "baseline": "middle", "fontSize": 13, "fontWeight": "bold", "color": "#1a1a1a"},
 "encoding": {"x": {"field": "x", "type": "quantitative"}, "y": {"field": "z", "type": "quantitative"}, "text": {"field": "t"}}}
]
}
]
}
